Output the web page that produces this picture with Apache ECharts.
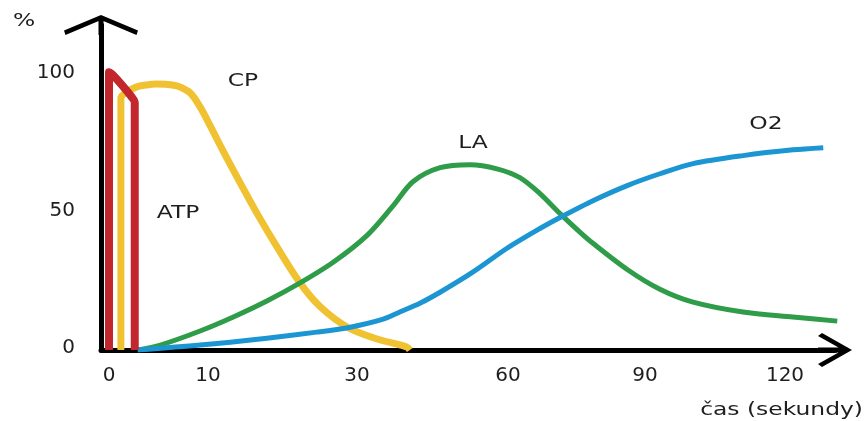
<!DOCTYPE html>
<html>
<head>
<meta charset="utf-8">
<script src="https://cdn.jsdelivr.net/npm/echarts@6/dist/echarts.min.js"></script>
<style>
    html, body { margin: 0; background: #fff; }
    #chart { width: 868px; height: 421px; }
</style>
</head>
<body>
<div id="chart"></div>
<script>
// tick labels
const tickSeconds = [0, 10, 30, 60, 90, 120]
const tickPct = [0, 50, 100]

// ATP
const atpTime = [0, 0, 0.4, 1.4, 2.3, 2.6, 2.6]
const atpPct = [0, 101, 100, 96, 92, 90, 0]

// CP
const cpTime = [1.2, 1.2, 1.8, 2.8, 3.8, 4.8, 5.9, 6.9, 8.2, 9.2, 10.3, 12.0, 14.3, 16.6, 19.3, 22.3, 25.0, 28.7, 34.0, 39.9, 40.5]
const cpPct = [0, 91.7, 93.8, 95.7, 96.4, 96.7, 96.6, 96.0, 93.5, 88.4, 81.5, 72.5, 60.9, 49.6, 37.3, 24.6, 15.9, 8.3, 4.0, 1.1, 0]

// LA
const laTime = [2.9, 5.2, 9.2, 13.4, 17.9, 22.3, 26.8, 32.0, 37.2, 41.1, 46.5, 52.5, 57.8, 62.6, 67.0, 71.4, 75.8, 78.6, 86.1, 93.2, 100.3, 111, 121.7, 131.2]
const laPct = [0, 1.8, 6.9, 12.0, 17.8, 24.3, 31.9, 41.7, 52.5, 61.2, 66.3, 67.4, 65.9, 62.7, 56.9, 49.6, 42.8, 38.8, 29.3, 22.1, 17.4, 13.8, 12, 10.5]

// O2
const o2Time = [2.9, 9.2, 17.9, 24.6, 29.1, 35.2, 38.5, 42.5, 46.5, 53.0, 59.8, 67.0, 71.4, 78.6, 86.1, 93.2, 100.3, 111, 121.7, 128.2]
const o2Pct = [0, 1.8, 4.3, 6.5, 8.3, 11.2, 13.8, 17.0, 21.0, 28.3, 37.0, 44.2, 48.2, 54.3, 59.8, 64.1, 67.8, 70.7, 72.8, 73.6]

// the time axis is drawn unevenly: where each labelled second sits on it
const tickPos = [0, 99, 248, 399, 536, 676]

/* seconds -> position on the (uneven) time axis */
function warp(t) {
    let i = 1
    while (i < tickSeconds.length - 1 && t > tickSeconds[i]) i++
    const t0 = tickSeconds[i - 1], t1 = tickSeconds[i]
    const p0 = tickPos[i - 1], p1 = tickPos[i]
    return p0 + (t - t0) * (p1 - p0) / (t1 - t0)
}

function toPoints(times, values) {
    return times.map((t, i) => [warp(t), values[i]])
}

const FONT = '"DejaVu Sans", sans-serif'
const TEXT = '#1e1e1e'

// open arrow heads (with a stem so the axis line reaches the tip)
const arrowX = 'path://M17,0 L34,30 L31,34 L17,9 L3,34 L0,30 Z M14.5,4 L19.5,4 L19.5,34 L14.5,34 Z'
const arrowY = 'path://M37,0 L74,15.5 L72.5,20 L37,5 L1.5,20 L0,15.5 Z M34.5,3 L39.5,3 L39.5,20 L34.5,20 Z'

function line(name, data, color, width, z) {
    return {
        name: name,
        type: 'line',
        data: data,
        showSymbol: false,
        smooth: 0.3,
        z: z,
        lineStyle: { color: color, width: width, join: 'round' },
    }
}

function label(text, x, y, align) {
    return {
        type: 'text',
        x: x,
        y: y,
        scaleX: 1.3,
        style: {
            text: text,
            font: '18px ' + FONT,
            fill: TEXT,
            align: align || 'center',
            verticalAlign: 'middle',
        },
    }
}

const chart = echarts.init(document.getElementById('chart'), null, { renderer: 'canvas' })

chart.setOption({
    animation: false,
    backgroundColor: '#fff',
    grid: { left: 101, right: 33, top: 25, bottom: 71 },
    xAxis: {
        type: 'value',
        min: -8,
        max: 726,
        axisLine: {
            onZero: false,
            lineStyle: { color: '#000', width: 5 },
            symbol: ['none', arrowX],
            symbolSize: [34, 34],
        },
        axisTick: { show: false },
        splitLine: { show: false },
        axisLabel: {
            customValues: tickPos,
            formatter: (v) => String(tickSeconds[tickPos.indexOf(v)]),
            color: TEXT,
            fontFamily: FONT,
            fontSize: 20,
            margin: 16,
        },
    },
    yAxis: {
        type: 'value',
        min: 0,
        max: 118.2,
        axisLine: {
            show: true,
            onZero: false,
            lineStyle: { color: '#000', width: 5 },
            symbol: ['none', arrowY],
            symbolSize: [74, 20],
        },
        axisTick: { show: false },
        splitLine: { show: false },
        axisLabel: {
            customValues: tickPct,
            color: TEXT,
            fontFamily: FONT,
            fontSize: 20,
            margin: 26,
            verticalAlign: 'bottom',
            lineHeight: 4,
        },
    },
    series: [
        line('CP', toPoints(cpTime, cpPct), '#f0c232', 7, 2),
        line('LA', toPoints(laTime, laPct), '#2e9c48', 5, 3),
        line('O2', toPoints(o2Time, o2Pct), '#1c96d3', 5, 4),
        line('ATP', toPoints(atpTime, atpPct), '#c1272d', 8, 5),
    ],
    graphic: [
        label('%', 24, 21),
        label('CP', 243, 81),
        label('ATP', 178, 213),
        label('LA', 473, 143),
        label('O2', 766, 124),
        label('čas (sekundy)', 863, 410, 'right'),
    ],
})
</script>
</body>
</html>
